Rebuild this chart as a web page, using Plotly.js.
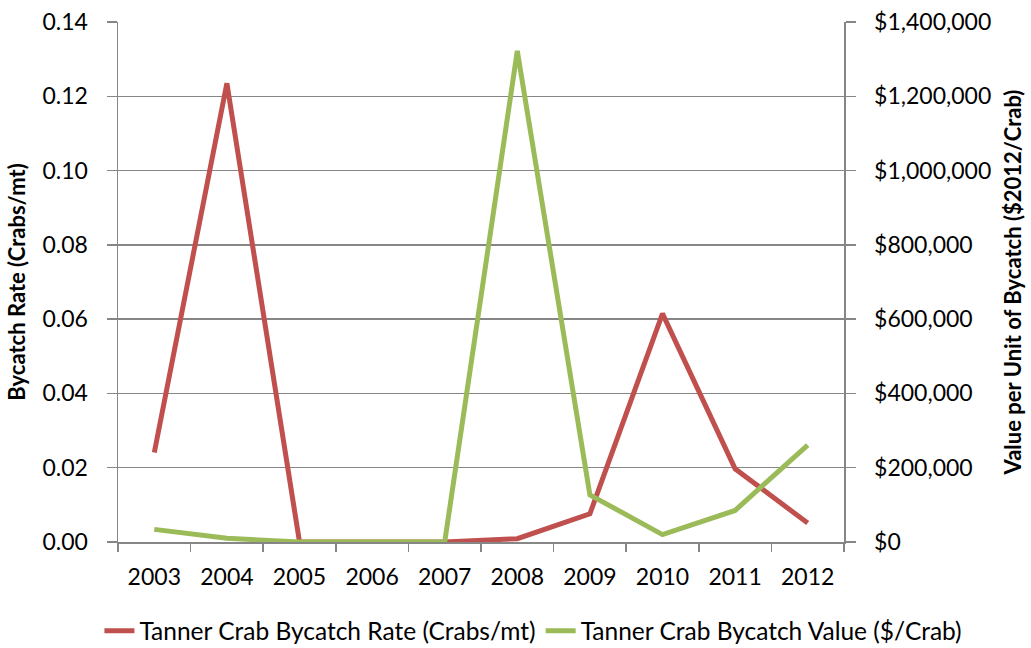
<!DOCTYPE html>
<html>
<head>
<meta charset="utf-8">
<script src="https://cdn.plot.ly/plotly-3.0.1.min.js"></script>
<style>html,body{margin:0;padding:0;background:#fff;}#chart{width:1031px;height:648px;}</style>
</head>
<body>
<div id="chart"></div>
<script>
const years = ["2003","2004","2005","2006","2007","2008","2009","2010","2011","2012"];
const bycatchRate = [0.0241, 0.1235, 0.0, 0.0, 0.0, 0.0009, 0.0076, 0.0615, 0.0197, 0.0051];
const bycatchValue = [34000, 10000, 0, 0, 0, 1322000, 127000, 19800, 85000, 261000];
const rateName = "Tanner Crab Bycatch Rate (Crabs/mt)";
const valueName = "Tanner Crab Bycatch Value ($/Crab)";

const font = "Lato, 'Open Sans', sans-serif";
const gray = "#868686";

const traces = [
  {x: years, y: bycatchRate, name: rateName, type: "scatter", mode: "lines",
   line: {color: "#C0504D", width: 5}, yaxis: "y"},
  {x: years, y: bycatchValue, name: valueName, type: "scatter", mode: "lines",
   line: {color: "#9BBB59", width: 5}, yaxis: "y2"}
];

const layout = {
  width: 1031, height: 648,
  margin: {l: 118, r: 187, t: 22, b: 106, autoexpand: false},
  paper_bgcolor: "#fff", plot_bgcolor: "#fff",
  font: {family: font, size: 23, color: "#000"},
  showlegend: true,
  legend: {orientation: "h", x: 1.17, xanchor: "right", xref: "paper",
           y: -0.171, yanchor: "middle", yref: "paper",
           font: {size: 24.5}, itemwidth: 30, tracegroupgap: 0},
  xaxis: {type: "category", range: [-0.5, 9.5], showline: true, linecolor: gray, linewidth: 1.5,
          ticks: "outside", ticklen: 8, tickcolor: gray, tickwidth: 1.5,
          tickson: "boundaries", showgrid: false, zeroline: false,
          tickfont: {size: 23}, ticklabelstandoff: 14},
  yaxis: {range: [0, 0.14], dtick: 0.02, tickformat: ".2f",
          showline: true, linecolor: gray, linewidth: 1.5,
          ticks: "outside", ticklen: 10, tickcolor: gray, tickwidth: 1.5,
          ticklabelstandoff: 14,
          showgrid: true, gridcolor: gray, gridwidth: 1.5, zeroline: false,
          tickfont: {size: 23},
          title: {text: "<b>Bycatch Rate (Crabs/mt)</b>", font: {size: 22}, standoff: 10}},
  yaxis2: {range: [0, 1400000], dtick: 200000, tickformat: "$,.0f",
           overlaying: "y", side: "right",
           showline: true, linecolor: gray, linewidth: 1.5,
           ticks: "outside", ticklen: 10, tickcolor: gray, tickwidth: 1.5,
           ticklabelstandoff: 14,
           showgrid: false, zeroline: false, tickfont: {size: 23},
           title: {text: "<b>Value per Unit of Bycatch ($2012/Crab)</b>", font: {size: 22}, standoff: 15}}
};

Plotly.newPlot("chart", traces, layout, {displayModeBar: false, staticPlot: true});
</script>
</body>
</html>
